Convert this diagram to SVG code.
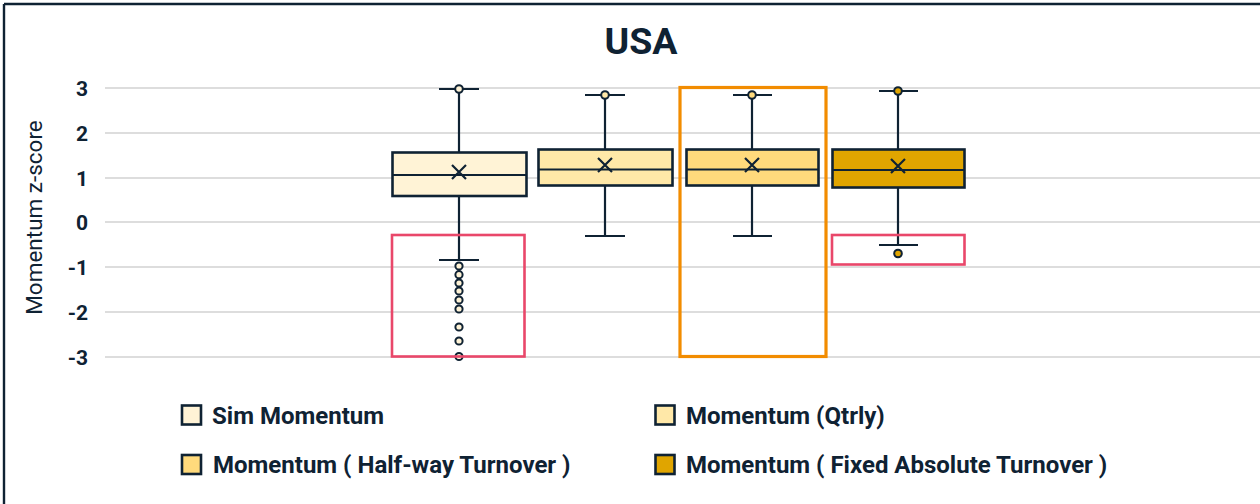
<svg xmlns="http://www.w3.org/2000/svg" width="1260" height="504" viewBox="0 0 1260 504">
<style>
.grid{stroke:#dddddd;stroke-width:2}
.box{stroke:#0f2233;stroke-width:2.6}
.wh{stroke:#0f2233;stroke-width:2.2;fill:none}
.med{stroke:#0f2233;stroke-width:2}
.out{stroke:#0f2233;stroke-width:2}
.tick{font-family:Roboto,"Liberation Sans",sans-serif;font-weight:700;font-size:21px;fill:#0f2233;text-anchor:end}
.leg{font-family:Roboto,"Liberation Sans",sans-serif;font-weight:700;font-size:24px;fill:#0f2233}
.hl-red{fill:none;stroke:#e9476a;stroke-width:2.6}
.hl-org{fill:none;stroke:#f28c00;stroke-width:3.2}
.c1{fill:#fff3d6}.c2{fill:#ffe8a8}.c3{fill:#ffda7c}.c4{fill:#e0a500}
</style>
<rect width="1260" height="504" fill="#ffffff"/>
<line x1="4" y1="4" x2="1260" y2="4" stroke="#0f2233" stroke-width="2.4"/>
<line x1="4" y1="4" x2="4" y2="504" stroke="#0f2233" stroke-width="2.4"/>
<text x="641" y="53.5" font-family="Roboto,'Liberation Sans',sans-serif" font-weight="700" font-size="37.5" fill="#0f2233" text-anchor="middle">USA</text>
<g id="grid">
<line class="grid" x1="105" y1="88" x2="1260" y2="88"/>
<line class="grid" x1="105" y1="133" x2="1260" y2="133"/>
<line class="grid" x1="105" y1="178" x2="1260" y2="178"/>
<line class="grid" x1="105" y1="222" x2="1260" y2="222"/>
<line class="grid" x1="105" y1="267" x2="1260" y2="267"/>
<line class="grid" x1="105" y1="312" x2="1260" y2="312"/>
<line class="grid" x1="105" y1="357" x2="1260" y2="357"/>
</g>
<g id="yaxis">
<text class="tick" x="88" y="96">3</text>
<text class="tick" x="88" y="141">2</text>
<text class="tick" x="88" y="186">1</text>
<text class="tick" x="88" y="230">0</text>
<text class="tick" x="88" y="275">-1</text>
<text class="tick" x="88" y="320">-2</text>
<text class="tick" x="88" y="365">-3</text>
<text transform="translate(42,217.5) rotate(-90)" font-family="Roboto,'Liberation Sans',sans-serif" font-size="22.5" fill="#0f2233" text-anchor="middle">Momentum z-score</text>
</g>
<g id="connectors">
<line class="wh" x1="459" y1="89" x2="459" y2="152"/>
<line class="wh" x1="439" y1="89" x2="479" y2="89"/>
<line class="wh" x1="459" y1="196" x2="459" y2="260"/>
<line class="wh" x1="439" y1="260" x2="479" y2="260"/>
<line class="wh" x1="605" y1="95" x2="605" y2="149"/>
<line class="wh" x1="585" y1="95" x2="625" y2="95"/>
<line class="wh" x1="605" y1="185" x2="605" y2="236"/>
<line class="wh" x1="585" y1="236" x2="625" y2="236"/>
<line class="wh" x1="752" y1="95" x2="752" y2="149"/>
<line class="wh" x1="733" y1="95" x2="772" y2="95"/>
<line class="wh" x1="752" y1="185" x2="752" y2="236"/>
<line class="wh" x1="733" y1="236" x2="772" y2="236"/>
<line class="wh" x1="898" y1="91" x2="898" y2="149"/>
<line class="wh" x1="879" y1="91" x2="918" y2="91"/>
<line class="wh" x1="898" y1="188" x2="898" y2="245"/>
<line class="wh" x1="879" y1="245" x2="918" y2="245"/>
</g>
<g id="box-sim">
<rect class="box c1" x="392.5" y="152.5" width="134" height="43.5"/>
<line class="med" x1="392.5" y1="175" x2="526.5" y2="175"/>
<path class="wh" d="M452,165 L466,179 M466,165 L452,179"/>
<g class="out c1">
<circle cx="459" cy="89" r="3.8"/>
<circle cx="459" cy="266" r="3.6"/>
<circle cx="459" cy="274.7" r="3.6"/>
<circle cx="459" cy="283" r="3.6"/>
<circle cx="459" cy="291" r="3.6"/>
<circle cx="459" cy="300" r="3.6"/>
<circle cx="459" cy="309" r="3.6"/>
<circle cx="459" cy="327" r="3.6"/>
<circle cx="459" cy="341" r="3.6"/>
<circle cx="459" cy="356.5" r="3.6"/>
</g>
</g>
<g id="box-qtrly">
<rect class="box c2" x="538.5" y="149.5" width="134" height="36"/>
<line class="med" x1="538.5" y1="169.5" x2="672.5" y2="169.5"/>
<path class="wh" d="M598,158 L612,172 M612,158 L598,172"/>
<circle class="out c2" cx="605" cy="95" r="3.8"/>
</g>
<g id="box-halfway">
<rect class="box c3" x="686.5" y="149.5" width="132" height="36"/>
<line class="med" x1="686.5" y1="169.5" x2="818.5" y2="169.5"/>
<path class="wh" d="M745,158 L759,172 M759,158 L745,172"/>
<circle class="out c3" cx="752" cy="95" r="3.8"/>
</g>
<g id="box-fixed">
<rect class="box c4" x="832.5" y="149.5" width="132" height="38"/>
<line class="med" x1="832.5" y1="170" x2="964.5" y2="170"/>
<path class="wh" d="M891,159 L905,173 M905,159 L891,173"/>
<circle class="out c4" cx="898" cy="91" r="3.8"/>
<circle class="out c4" cx="898" cy="253.5" r="3.8"/>
</g>
<g id="highlights">
<rect class="hl-red" x="392" y="235" width="132.5" height="121.5"/>
<rect class="hl-org" x="680" y="87.5" width="146" height="269"/>
<rect class="hl-red" x="832" y="235" width="132.5" height="29.5"/>
</g>
<g id="legend">
<rect class="box c1" x="182" y="405.5" width="19" height="19" stroke-width="2"/>
<text class="leg" x="212" y="424">Sim Momentum</text>
<rect class="box c2" x="655.5" y="405.5" width="19" height="19" stroke-width="2"/>
<text class="leg" x="686" y="424">Momentum (Qtrly)</text>
<rect class="box c3" x="182" y="455" width="19" height="19" stroke-width="2"/>
<text class="leg" x="213" y="473">Momentum ( Half-way Turnover )</text>
<rect class="box c4" x="655.5" y="455" width="19" height="19" stroke-width="2"/>
<text class="leg" x="686" y="473">Momentum ( Fixed Absolute Turnover )</text>
</g>
</svg>
